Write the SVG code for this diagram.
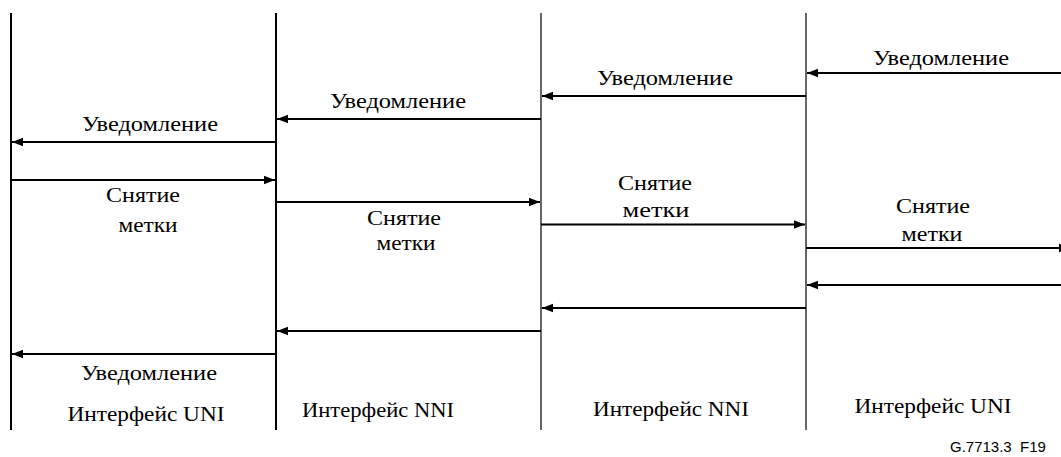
<svg xmlns="http://www.w3.org/2000/svg" width="1061" height="457" viewBox="0 0 1061 457">
  <style>
    .lbl { font-family: "Liberation Serif", "Times New Roman", "DejaVu Serif", serif; font-size: 22px; fill: #000; text-anchor: middle; }
    .code { font-family: "Liberation Sans", Arial, sans-serif; font-size: 15px; fill: #000; }
    .life { stroke: #000; fill: none; }
    .msg { stroke: #000; stroke-width: 2.2; fill: none; marker-end: url(#arrow); }
  </style>
  <defs>
    <marker id="arrow" markerUnits="userSpaceOnUse" markerWidth="12" markerHeight="10" viewBox="0 0 12 10" refX="11" refY="5" orient="auto">
      <path d="M0,0.8 L11,5 L0,9.2 Z" fill="#000"/>
    </marker>
  </defs>

  <!-- interface lifelines -->
  <g id="uni-left">
    <line class="life" x1="11" y1="13" x2="11" y2="430" stroke-width="2"/>
    <text class="lbl" x="146" y="421" textLength="157" lengthAdjust="spacingAndGlyphs">Интерфейс UNI</text>
  </g>
  <g id="nni-left">
    <line class="life" x1="276" y1="13" x2="276" y2="430" stroke-width="2"/>
    <text class="lbl" x="378" y="417" textLength="152" lengthAdjust="spacingAndGlyphs">Интерфейс NNI</text>
  </g>
  <g id="nni-right">
    <line class="life" x1="541" y1="13" x2="541" y2="430" stroke-width="1.2"/>
    <text class="lbl" x="671" y="416" textLength="156" lengthAdjust="spacingAndGlyphs">Интерфейс NNI</text>
  </g>
  <g id="uni-right">
    <line class="life" x1="806" y1="13" x2="806" y2="430" stroke-width="1.2"/>
    <text class="lbl" x="933" y="413" textLength="157" lengthAdjust="spacingAndGlyphs">Интерфейс UNI</text>
  </g>

  <!-- messages -->
  <g id="connectors">
    <!-- notification, right to left -->
    <line class="msg" x1="1061" y1="73" x2="807" y2="73"/>
    <line class="msg" x1="806" y1="96" x2="542" y2="96"/>
    <line class="msg" x1="541" y1="119" x2="277" y2="119"/>
    <line class="msg" x1="276" y1="142" x2="12" y2="142"/>
    <!-- label release, left to right -->
    <line class="msg" x1="11" y1="180" x2="275" y2="180"/>
    <line class="msg" x1="276" y1="202" x2="540" y2="202"/>
    <line class="msg" x1="541" y1="224.5" x2="805" y2="224.5"/>
    <line class="msg" x1="806" y1="248" x2="1070" y2="248"/>
    <!-- notification, right to left -->
    <line class="msg" x1="1061" y1="285" x2="807" y2="285"/>
    <line class="msg" x1="806" y1="308" x2="542" y2="308"/>
    <line class="msg" x1="541" y1="331" x2="277" y2="331"/>
    <line class="msg" x1="276" y1="354" x2="12" y2="354"/>
  </g>

  <g id="labels">
    <text class="lbl" x="941" y="65" textLength="136" lengthAdjust="spacingAndGlyphs">Уведомление</text>
    <text class="lbl" x="665" y="85" textLength="136" lengthAdjust="spacingAndGlyphs">Уведомление</text>
    <text class="lbl" x="398" y="108" textLength="136" lengthAdjust="spacingAndGlyphs">Уведомление</text>
    <text class="lbl" x="150" y="131" textLength="136" lengthAdjust="spacingAndGlyphs">Уведомление</text>

    <text class="lbl" x="143" y="202" textLength="74" lengthAdjust="spacingAndGlyphs">Снятие</text>
    <text class="lbl" x="148" y="232" textLength="59" lengthAdjust="spacingAndGlyphs">метки</text>
    <text class="lbl" x="404" y="225" textLength="74" lengthAdjust="spacingAndGlyphs">Снятие</text>
    <text class="lbl" x="406" y="250" textLength="59" lengthAdjust="spacingAndGlyphs">метки</text>
    <text class="lbl" x="655" y="190" textLength="74" lengthAdjust="spacingAndGlyphs">Снятие</text>
    <text class="lbl" x="656" y="217" textLength="67" lengthAdjust="spacingAndGlyphs">метки</text>
    <text class="lbl" x="933" y="213" textLength="74" lengthAdjust="spacingAndGlyphs">Снятие</text>
    <text class="lbl" x="932" y="241" textLength="61" lengthAdjust="spacingAndGlyphs">метки</text>

    <text class="lbl" x="149" y="380" textLength="136" lengthAdjust="spacingAndGlyphs">Уведомление</text>
  </g>

  <text class="code" x="950" y="452" xml:space="preserve">G.7713.3  F19</text>
</svg>
